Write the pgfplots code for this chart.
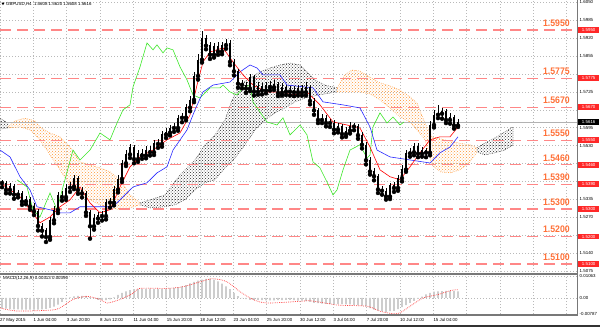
\documentclass[border=0pt]{standalone}
\usepackage{pgfplots}
\pgfplotsset{compat=1.18}
\usepackage{pgfplotstable}
\usepackage{fontspec}
\setmainfont{Liberation Sans}
\usetikzlibrary{patterns}
\definecolor{lvl}{RGB}{255,135,135}
\definecolor{lbl}{RGB}{255,112,55}
\definecolor{tagred}{RGB}{255,40,40}
\definecolor{gridc}{RGB}{185,185,185}
\definecolor{cloudo}{RGB}{255,150,50}
\definecolor{cloudk}{RGB}{40,40,40}
\definecolor{tenkan}{RGB}{255,0,0}
\definecolor{kijun}{RGB}{40,40,255}
\definecolor{chikou}{RGB}{60,230,40}
\definecolor{histc}{RGB}{205,205,205}
\definecolor{sepc}{RGB}{120,120,120}
\newcommand{\sm}{\fontsize{4.4}{5}\selectfont}

\pgfplotstableread{
x o h l c
2 1.5395 1.5405 1.5379 1.5394
6 1.5394 1.5402 1.5357 1.5369
10 1.5369 1.5393 1.5356 1.5381
14 1.5381 1.5391 1.5337 1.5352
18 1.5352 1.5370 1.5342 1.5358
22 1.5358 1.5366 1.5315 1.5327
26 1.5327 1.5348 1.5317 1.5334
30 1.5334 1.5344 1.5297 1.5309
34 1.5309 1.5320 1.5278 1.5292
38 1.5292 1.5300 1.5222 1.5238
42 1.5238 1.5250 1.5200 1.5221
46 1.5221 1.5232 1.5180 1.5198
50 1.5198 1.5270 1.5188 1.5259
54 1.5259 1.5310 1.5248 1.5296
58 1.5296 1.5362 1.5285 1.5350
62 1.5350 1.5365 1.5330 1.5343
66 1.5343 1.5390 1.5333 1.5377
70 1.5377 1.5398 1.5362 1.5381
74 1.5381 1.5425 1.5372 1.5410
78 1.5410 1.5418 1.5355 1.5369
82 1.5369 1.5380 1.5342 1.5356
86 1.5356 1.5365 1.5275 1.5287
90 1.5287 1.5295 1.5192 1.5237
94 1.5237 1.5280 1.5225 1.5265
98 1.5265 1.5290 1.5250 1.5276
102 1.5276 1.5292 1.5258 1.5274
106 1.5274 1.5336 1.5262 1.5324
110 1.5324 1.5340 1.5305 1.5323
114 1.5323 1.5382 1.5313 1.5370
118 1.5370 1.5425 1.5360 1.5409
122 1.5409 1.5478 1.5398 1.5466
126 1.5466 1.5515 1.5456 1.5498
130 1.5498 1.5535 1.5485 1.5524
134 1.5524 1.5532 1.5466 1.5481
138 1.5481 1.5515 1.5471 1.5503
142 1.5503 1.5518 1.5482 1.5494
146 1.5494 1.5527 1.5484 1.5515
150 1.5515 1.5530 1.5494 1.5506
154 1.5506 1.5550 1.5496 1.5539
158 1.5539 1.5554 1.5522 1.5536
162 1.5536 1.5582 1.5526 1.5570
166 1.5570 1.5593 1.5558 1.5577
170 1.5577 1.5606 1.5567 1.5595
174 1.5595 1.5612 1.5580 1.5594
178 1.5594 1.5643 1.5584 1.5631
182 1.5631 1.5648 1.5615 1.5632
186 1.5632 1.5680 1.5622 1.5668
190 1.5668 1.5712 1.5655 1.5696
194 1.5696 1.5798 1.5688 1.5783
198 1.5783 1.5862 1.5770 1.5842
202 1.5842 1.5945 1.5832 1.5921
206 1.5921 1.5933 1.5880 1.5893
210 1.5893 1.5905 1.5845 1.5860
214 1.5860 1.5902 1.5850 1.5890
218 1.5890 1.5905 1.5860 1.5872
222 1.5872 1.5908 1.5862 1.5895
226 1.5895 1.5918 1.5882 1.5902
230 1.5902 1.5912 1.5822 1.5834
234 1.5834 1.5846 1.5785 1.5800
238 1.5800 1.5810 1.5740 1.5755
242 1.5755 1.5770 1.5738 1.5751
246 1.5751 1.5762 1.5722 1.5737
250 1.5737 1.5790 1.5728 1.5777
254 1.5777 1.5785 1.5712 1.5726
258 1.5726 1.5760 1.5715 1.5746
262 1.5746 1.5758 1.5716 1.5730
266 1.5730 1.5762 1.5720 1.5748
270 1.5748 1.5765 1.5730 1.5742
274 1.5742 1.5768 1.5732 1.5753
278 1.5753 1.5762 1.5710 1.5721
282 1.5721 1.5756 1.5712 1.5742
286 1.5742 1.5752 1.5714 1.5726
290 1.5726 1.5748 1.5712 1.5733
294 1.5733 1.5745 1.5710 1.5724
298 1.5724 1.5752 1.5712 1.5739
302 1.5739 1.5750 1.5712 1.5724
306 1.5724 1.5760 1.5712 1.5744
310 1.5744 1.5752 1.5680 1.5692
314 1.5692 1.5702 1.5642 1.5658
318 1.5658 1.5668 1.5612 1.5623
322 1.5623 1.5645 1.5612 1.5631
326 1.5631 1.5642 1.5600 1.5612
330 1.5612 1.5628 1.5598 1.5613
334 1.5613 1.5622 1.5575 1.5588
338 1.5588 1.5612 1.5578 1.5599
342 1.5599 1.5608 1.5560 1.5572
346 1.5572 1.5598 1.5562 1.5584
350 1.5584 1.5615 1.5574 1.5599
354 1.5599 1.5612 1.5586 1.5599
358 1.5599 1.5608 1.5555 1.5568
362 1.5568 1.5578 1.5520 1.5533
366 1.5533 1.5542 1.5462 1.5477
370 1.5477 1.5488 1.5425 1.5436
374 1.5436 1.5448 1.5404 1.5419
378 1.5419 1.5428 1.5358 1.5371
382 1.5371 1.5385 1.5352 1.5366
386 1.5366 1.5376 1.5334 1.5345
390 1.5345 1.5396 1.5336 1.5385
394 1.5385 1.5398 1.5362 1.5376
398 1.5376 1.5424 1.5366 1.5412
402 1.5412 1.5458 1.5400 1.5443
406 1.5443 1.5515 1.5435 1.5502
410 1.5502 1.5522 1.5490 1.5506
414 1.5506 1.5540 1.5495 1.5528
418 1.5528 1.5538 1.5488 1.5501
422 1.5501 1.5526 1.5490 1.5512
426 1.5512 1.5522 1.5488 1.5504
430 1.5504 1.5620 1.5495 1.5605
434 1.5605 1.5660 1.5596 1.5642
438 1.5642 1.5678 1.5630 1.5646
442 1.5646 1.5668 1.5628 1.5655
446 1.5655 1.5664 1.5612 1.5623
450 1.5623 1.5648 1.5610 1.5633
454 1.5633 1.5640 1.5592 1.5603
458 1.5603 1.5625 1.5598 1.5616
}\candles

\pgfplotstableread{
x h
2 -0.0051
6 -0.0053
10 -0.0055
14 -0.0056
18 -0.0056
22 -0.0057
26 -0.0057
30 -0.0058
34 -0.0057
38 -0.0057
42 -0.0056
46 -0.0054
50 -0.0049
54 -0.0043
58 -0.0033
62 -0.0020
66 -0.0007
70 0.0002
74 0.0007
78 0.0009
82 0.0009
86 0.0009
90 0.0004
94 -0.0002
98 -0.0010
102 -0.0011
106 -0.0011
110 -0.0007
114 0.0002
118 0.0015
122 0.0024
126 0.0032
130 0.0038
134 0.0042
138 0.0043
142 0.0044
146 0.0045
150 0.0045
154 0.0044
158 0.0044
162 0.0044
166 0.0045
170 0.0046
174 0.0048
178 0.0051
182 0.0056
186 0.0062
190 0.0070
194 0.0078
198 0.0084
202 0.0089
206 0.0092
210 0.0093
214 0.0089
218 0.0080
222 0.0069
226 0.0056
230 0.0042
234 0.0024
238 0.0008
242 -0.0002
246 -0.0006
250 -0.0010
254 -0.0011
258 -0.0011
262 -0.0011
266 -0.0012
270 -0.0012
274 -0.0012
278 -0.0011
282 -0.0011
286 -0.0010
290 -0.0010
294 -0.0011
298 -0.0013
302 -0.0014
306 -0.0016
310 -0.0020
314 -0.0024
318 -0.0026
322 -0.0028
326 -0.0029
330 -0.0030
334 -0.0030
338 -0.0031
342 -0.0031
346 -0.0032
350 -0.0032
354 -0.0034
358 -0.0036
362 -0.0038
366 -0.0042
370 -0.0050
374 -0.0058
378 -0.0062
382 -0.0066
386 -0.0068
390 -0.0065
394 -0.0063
398 -0.0055
402 -0.0045
406 -0.0035
410 -0.0025
414 -0.0015
418 -0.0005
422 0.0006
426 0.0017
430 0.0024
434 0.0030
438 0.0032
442 0.0033
446 0.0034
450 0.0034
454 0.0033
458 0.0031
}\macdhist

\begin{document}
\begin{tikzpicture}
\useasboundingbox (0,0) rectangle (600pt,327pt);
\begin{axis}[
  at={(0pt,55pt)}, anchor=south west,
  scale only axis, width=577pt, height=272pt,
  xmin=0, xmax=577, ymin=1.5071, ymax=1.6059,
  clip mode=individual,
  axis line style={draw=none},
  major tick length=0pt,
  scaled ticks=false,
  xtick={0,33.333,66.667,100,133.333,166.667,200,233.333,266.667,300,333.333,366.667,400,433.333,466.667,500,533.333,566.667},
  xticklabel=\empty,
  ytick={1.5075,1.5140,1.5205,1.5270,1.5335,1.5400,1.5465,1.5530,1.5595,1.5660,1.5725,1.5790,1.5855,1.5920,1.5985,1.6050},
  yticklabels={1.5075,1.5140,,1.5270,1.5335,,,1.5530,1.5595,,1.5725,,1.5855,1.5920,1.5985,1.6050},
  yticklabel pos=right,
  yticklabel style={anchor=west, xshift=2.5pt, inner sep=0pt, font=\sm},
  grid=major,
  grid style={gridc, dash pattern=on 1pt off 2pt, line width=0.5pt},
]
% Ichimoku cloud
\addplot[draw=cloudk, dash pattern=on 0.8pt off 1.2pt, pattern=crosshatch dots, pattern color=cloudk] coordinates {
 (0,1.5630) (8,1.5612) (8,1.5594) (0,1.5590)} -- cycle;
\addplot[draw=cloudo, dash pattern=on 0.8pt off 1.2pt, pattern=crosshatch dots, pattern color=cloudo] coordinates {
 (8,1.5598) (15,1.5620) (25,1.5630) (35,1.5620) (40,1.5598) (50,1.5576) (60,1.5562) (70,1.5525) (80,1.5471) (90,1.5460) (100,1.5449) (110,1.5435) (120,1.5406) (130,1.5351) (140,1.5322)
 (140,1.5315) (130,1.5304) (120,1.5297) (110,1.5304) (100,1.5315) (90,1.5333) (80,1.5351) (70,1.5387) (60,1.5442) (50,1.5496) (40,1.5551) (30,1.5587) (20,1.5598) (8,1.5594)} -- cycle;
\addplot[draw=cloudk, dash pattern=on 0.8pt off 1.2pt, pattern=crosshatch dots, pattern color=cloudk] coordinates {
 (140,1.5322) (150,1.5333) (165,1.5351) (180,1.5424) (195,1.5478) (205,1.5533) (215,1.5569) (225,1.5623) (232,1.5696) (240,1.5750) (250,1.5776) (260,1.5798) (270,1.5812) (280,1.5823) (290,1.5830) (300,1.5823) (307,1.5798) (315,1.5769) (325,1.5750) (337,1.5740)
 (337,1.5725) (325,1.5718) (315,1.5711) (305,1.5703) (295,1.5689) (285,1.5667) (275,1.5649) (265,1.5623) (255,1.5587) (245,1.5533) (235,1.5485) (225,1.5449) (215,1.5406) (205,1.5395) (195,1.5369) (185,1.5333) (175,1.5315) (165,1.5308) (150,1.5304) (140,1.5315)} -- cycle;
\addplot[draw=cloudo, dash pattern=on 0.8pt off 1.2pt, pattern=crosshatch dots, pattern color=cloudo] coordinates {
 (337,1.5740) (345,1.5787) (352,1.5805) (360,1.5801) (368,1.5783) (378,1.5761) (390,1.5747) (400,1.5732) (410,1.5707) (417,1.5685) (425,1.5612) (432,1.5562) (445,1.5551) (458,1.5540) (470,1.5533) (477,1.5522)
 (477,1.5507) (470,1.5471) (460,1.5442) (450,1.5431) (440,1.5435) (432,1.5460) (425,1.5551) (417,1.5587) (410,1.5616) (400,1.5634) (390,1.5667) (380,1.5696) (370,1.5718) (360,1.5725) (350,1.5725) (337,1.5725)} -- cycle;
\addplot[draw=cloudk, dash pattern=on 0.8pt off 1.2pt, pattern=crosshatch dots, pattern color=cloudk] coordinates {
 (477,1.5522) (485,1.5540) (495,1.5558) (505,1.5580) (513,1.5598)
 (513,1.5533) (505,1.5514) (495,1.5504) (485,1.5496) (477,1.5507)} -- cycle;
% levels
\pgfplotsinvokeforeach{1.5950,1.5775,1.5670,1.5550,1.5460,1.5390,1.5300,1.5200,1.5100}{
  \addplot[lvl, line width=1.1pt, dash pattern=on 11pt off 6pt] coordinates {(0,#1) (577,#1)};
  \node[anchor=south east, inner sep=0pt, yshift=3.5pt, xscale=0.92, text=lbl, font=\bfseries\fontsize{9.5}{10}\selectfont] at (axis cs:570,#1) {#1};
}
% bid line
\addplot[gray!60, line width=0.5pt] coordinates {(0,1.5616) (577,1.5616)};
% chikou
\addplot[chikou, line width=0.6pt] coordinates {
 (17,1.5406) (27,1.5380) (33,1.5297) (40,1.5271) (50,1.5358) (57,1.5297) (63,1.5380) (73,1.5514) (80,1.5478) (90,1.5514) (100,1.5576) (110,1.5551) (117,1.5612) (123,1.5660) (130,1.5678) (133,1.5743) (140,1.5816) (147,1.5903) (153,1.5878) (157,1.5896) (163,1.5867) (167,1.5885) (173,1.5878) (180,1.5816) (187,1.5769) (193,1.5714) (200,1.5703) (210,1.5740) (220,1.5740) (223,1.5750) (230,1.5725) (237,1.5714) (243,1.5740) (250,1.5750) (253,1.5689) (260,1.5652) (267,1.5616) (277,1.5605) (283,1.5631) (290,1.5569) (300,1.5605) (307,1.5569) (313,1.5471) (320,1.5449) (327,1.5398) (333,1.5351) (337,1.5369) (343,1.5442) (350,1.5514) (360,1.5533) (367,1.5485) (370,1.5496) (373,1.5598) (380,1.5649) (387,1.5612) (393,1.5634) (400,1.5605) (404,1.5616)};
% kijun
\addplot[kijun, line width=0.6pt] coordinates {
 (0,1.5514) (10,1.5489) (20,1.5417) (30,1.5369) (37,1.5308) (50,1.5297) (60,1.5286) (70,1.5286) (80,1.5308) (100,1.5308) (113,1.5308) (120,1.5333) (133,1.5380) (147,1.5395) (157,1.5431) (167,1.5453) (173,1.5514) (187,1.5587) (195,1.5660) (203,1.5725) (213,1.5750) (230,1.5761) (240,1.5798) (250,1.5823) (257,1.5812) (263,1.5787) (280,1.5787) (287,1.5750) (313,1.5740) (323,1.5689) (343,1.5678) (360,1.5667) (370,1.5598) (377,1.5514) (390,1.5489) (410,1.5478) (430,1.5467) (440,1.5504) (450,1.5525) (458,1.5562)};
% tenkan
\addplot[tenkan, line width=0.6pt] coordinates {
 (0,1.5395) (20,1.5344) (40,1.5250) (50,1.5271) (60,1.5308) (70,1.5333) (80,1.5380) (90,1.5322) (100,1.5286) (110,1.5297) (120,1.5380) (130,1.5453) (140,1.5489) (153,1.5514) (167,1.5551) (180,1.5576) (190,1.5641) (197,1.5750) (203,1.5834) (210,1.5870) (223,1.5885) (233,1.5834) (243,1.5787) (253,1.5750) (267,1.5725) (280,1.5725) (293,1.5714) (307,1.5725) (320,1.5678) (333,1.5616) (347,1.5605) (360,1.5594) (370,1.5525) (380,1.5442) (390,1.5417) (400,1.5406) (410,1.5453) (420,1.5504) (430,1.5551) (440,1.5562) (450,1.5562) (458,1.5598)};
% candles: wicks and bodies
\addplot[only marks, mark=none, error bars/.cd, y dir=plus, y explicit, error mark=none,
  error bar style={black, line width=0.5pt}]
  table[x=x, y=l, y error expr={\thisrow{h}-\thisrow{l}}] {\candles};
\addplot[only marks, mark=none, error bars/.cd, y dir=plus, y explicit, error mark=none,
  error bar style={black, line width=1.1pt}]
  table[x=x, y expr={min(\thisrow{o},\thisrow{c})}, y error expr={abs(\thisrow{c}-\thisrow{o})+0.00008}] {\candles};
% price tags
\pgfplotsinvokeforeach{1.5950,1.5775,1.5670,1.5550,1.5460,1.5390,1.5300,1.5200,1.5100}{
  \node[anchor=west, fill=tagred, text=white, font=\sm, inner sep=0.6pt, minimum width=21pt, minimum height=5.5pt] at (axis cs:578,#1) {#1};
}
\node[anchor=west, fill=black, text=white, font=\sm, inner sep=0.6pt, minimum width=21pt, minimum height=5.5pt] at (axis cs:578,1.5616) {1.5616};
\end{axis}

\begin{axis}[
  at={(0pt,13pt)}, anchor=south west,
  scale only axis, width=577pt, height=38pt,
  xmin=0, xmax=577, ymin=-0.00787, ymax=0.01063,
  clip mode=individual,
  axis line style={draw=none},
  major tick length=0pt,
  scaled ticks=false,
  xtick={0,33.333,66.667,100,133.333,166.667,200,233.333,266.667,300,333.333,366.667,400,433.333,466.667,500,533.333,566.667},
  xticklabels={27 May 2015,1 Jun 04:00,3 Jun 20:00,8 Jun 12:00,11 Jun 04:00,15 Jun 20:00,18 Jun 12:00,23 Jun 04:00,25 Jun 20:00,30 Jun 12:00,3 Jul 04:00,7 Jul 20:00,10 Jul 12:00,15 Jul 04:00,{},{},{},{}},
  xticklabel style={anchor=north west, font=\sm, inner sep=0pt, yshift=-4pt},
  ytick={-0.00787,0,0.01063}, yticklabels={-0.00787,0.00,0.01063},
  yticklabel pos=right,
  yticklabel style={anchor=west, xshift=2.5pt, inner sep=0pt, font=\sm},
  grid=major,
  grid style={gridc, dash pattern=on 1pt off 2pt, line width=0.5pt},
]
\addplot[ybar, bar width=1.9pt, fill=histc, draw=none] table[x=x, y=h] {\macdhist};
\addplot[red!80, line width=0.7pt, dash pattern=on 0.7pt off 1.1pt, smooth] coordinates {
 (0,-0.0049) (17,-0.0064) (50,-0.0060) (60,-0.0049) (73,-0.0008) (87,0.0007) (100,-0.0008) (107,-0.0025) (120,-0.0008) (133,0.0022) (140,0.0046) (167,0.0046) (183,0.0054) (200,0.0078) (213,0.0093) (227,0.0078) (240,0.0030) (253,-0.0008) (267,-0.0025) (300,-0.0017) (310,-0.0014) (327,-0.0027) (340,-0.0036) (367,-0.0041) (380,-0.0065) (393,-0.0077) (400,-0.0073) (410,-0.0041) (423,-0.0001) (437,0.0015) (447,0.0030) (453,0.0038) (458,0.0039)};
\end{axis}
% panel frames
\draw[sepc, line width=2pt] (0,53.3pt) -- (578pt,53.3pt);
\draw[sepc, line width=1.3pt] (0,12pt) -- (578pt,12pt);
\draw[sepc, line width=1.2pt] (577.6pt,11.4pt) -- (577.6pt,327pt);
\fill[black!80] (0,0) rectangle (600pt,2pt);
% headers
\fill[black] (1.5pt,324.3pt) -- (4.5pt,324.3pt) -- (3pt,321.8pt) -- cycle;
\node[anchor=west, inner sep=0pt, font=\sm] at (6pt,323pt) {GBPUSD,H4\ \ 1.5608 1.5620 1.5608 1.5616};
\node[anchor=west, inner sep=0pt, font=\sm] at (3pt,48.5pt) {MACD(12,26,9) 0.00313 0.00390};
\end{tikzpicture}
\end{document}
